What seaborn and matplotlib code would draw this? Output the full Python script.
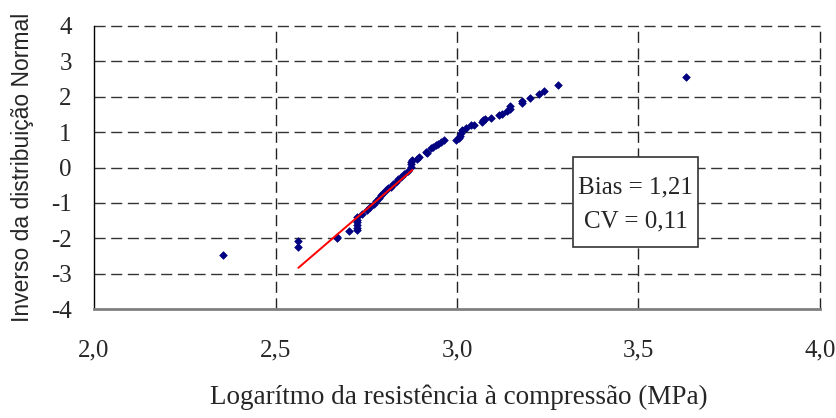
import matplotlib
matplotlib.use("Agg")
import matplotlib.pyplot as plt
from matplotlib.patches import Rectangle
import seaborn as sns
import pandas as pd

# log10 of compressive strength (MPa) and inverse standard normal of plotting position
log_resist = [
    2.355, 2.563, 2.563, 2.670, 2.670, 2.703, 2.724, 2.724, 2.724, 2.724,
    2.724, 2.724, 2.739, 2.752, 2.760, 2.770, 2.778, 2.784, 2.790, 2.797,
    2.804, 2.811, 2.818, 2.825, 2.832, 2.838, 2.845, 2.854, 2.864, 2.873,
    2.873, 2.873, 2.877, 2.891, 2.896, 2.914, 2.918, 2.928, 2.935, 2.941,
    2.948, 2.955, 2.964, 2.996, 3.005, 3.008, 3.010, 3.015, 3.024, 3.038,
    3.047, 3.070, 3.072, 3.076, 3.093, 3.117, 3.125, 3.138, 3.145, 3.146,
    3.180, 3.180, 3.200, 3.227, 3.239, 3.277, 3.631,
]
inv_normal = [
    -2.48, -2.25, -2.08, -2.00, -1.95, -1.79, -1.77, -1.70, -1.62, -1.55,
    -1.48, -1.40, -1.30, -1.20, -1.12, -1.02, -0.95, -0.86, -0.78, -0.71,
    -0.64, -0.59, -0.545, -0.47, -0.40, -0.33, -0.26, -0.17, -0.10, 0.02,
    0.09, 0.16, 0.21, 0.235, 0.30, 0.44, 0.40, 0.54, 0.58, 0.63,
    0.67, 0.72, 0.77, 0.77, 0.82, 0.90, 0.96, 1.05, 1.12, 1.19,
    1.19, 1.29, 1.33, 1.38, 1.40, 1.475, 1.52, 1.59, 1.66, 1.73,
    1.83, 1.88, 1.97, 2.06, 2.16, 2.32, 2.56,
]

# fitted normal line over the lower tail
fit_x = [2.563, 2.877]
fit_y = [-2.83, -0.07]

x_ticks = [2.0, 2.5, 3.0, 3.5, 4.0]
x_tick_labels = ["2,0", "2,5", "3,0", "3,5", "4,0"]
y_ticks = [4, 3, 2, 1, 0, -1, -2, -3, -4]
y_tick_labels = ["4", "3", "2", "1", "0", "-1", "-2", "-3", "-4"]

stats_text = ["Bias = 1,21", "CV = 0,11"]

sns.set_style("white")
plt.rcParams["font.family"] = ["Liberation Serif", "DejaVu Serif"]

fig = plt.figure(figsize=(8.37, 4.18), dpi=100)
ax = fig.add_axes([94 / 837, 1 - 309.3 / 418, 726 / 837, 283.6 / 418])

points = pd.DataFrame({"x": log_resist, "y": inv_normal})
fit = pd.DataFrame({"x": fit_x, "y": fit_y})

sns.scatterplot(data=points, x="x", y="y", ax=ax, marker="D", s=15,
                color="#000080", edgecolor="#000080", linewidth=0.5, zorder=3)
sns.lineplot(data=fit, x="x", y="y", ax=ax, color="red", linewidth=1.4,
             zorder=4, estimator=None, sort=False)

ax.set_xlim(2.0, 4.0)
ax.set_ylim(-4, 4)

# dashed grid
for xv in x_ticks[1:]:
    ax.axvline(xv, color="#222222", lw=1.0, dashes=(8, 4), zorder=1, clip_on=False)
for yv in y_ticks[:-1]:
    ax.axhline(yv, color="#333333", lw=1.0, dashes=(8, 4), zorder=1, clip_on=False)

for side in ("top", "right"):
    ax.spines[side].set_visible(False)
ax.spines["left"].set_color("black")
ax.spines["left"].set_linewidth(1.0)
ax.spines["bottom"].set_color("#808080")
ax.spines["bottom"].set_linewidth(2.0)

ax.set_xticks(x_ticks)
ax.set_xticklabels(x_tick_labels)
ax.set_yticks(y_ticks)
ax.set_yticklabels(y_tick_labels)
ax.tick_params(axis="both", direction="inout", length=12, width=1.0,
               color="black", labelsize=18)
ax.tick_params(axis="x", pad=16)
ax.tick_params(axis="y", pad=10)

ax.set_xlabel("Logarítmo da resistência à compressão (MPa)", fontsize=19.5,
              va="center", ha="center")
ax.xaxis.set_label_coords(0.502, -0.309)
ax.set_ylabel("Inverso da distribuição Normal", fontsize=16.5,
              family=["Liberation Sans", "DejaVu Sans"], va="center", ha="center")
ax.yaxis.set_label_coords(-0.099, 0.502)

# statistics box
ax.add_patch(Rectangle((0.660, 0.220), 0.172, 0.317, transform=ax.transAxes,
                       facecolor="white", edgecolor="#333333", lw=1.2, zorder=5))
ax.text(0.746, 0.431, stats_text[0], transform=ax.transAxes, fontsize=18,
        ha="center", va="center", zorder=6)
ax.text(0.746, 0.308, stats_text[1], transform=ax.transAxes, fontsize=18,
        ha="center", va="center", zorder=6)

fig.savefig("out.png", dpi=100)
